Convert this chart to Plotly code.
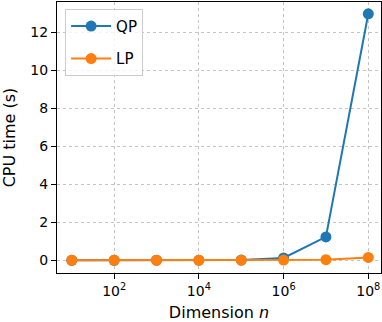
import plotly.graph_objects as go

dims = [1e1, 1e2, 1e3, 1e4, 1e5, 1e6, 1e7, 1e8]
qp_time = [0.002, 0.002, 0.003, 0.005, 0.01, 0.12, 1.23, 12.98]
lp_time = [0.001, 0.001, 0.001, 0.002, 0.003, 0.01, 0.03, 0.15]
x_tickvals = [1e2, 1e4, 1e6, 1e8]
x_ticktext = ["10<sup>2</sup>", "10<sup>4</sup>", "10<sup>6</sup>", "10<sup>8</sup>"]
y_tickvals = [0, 2, 4, 6, 8, 10, 12]

font = "DejaVu Sans"
fig = go.Figure()
fig.add_trace(go.Scatter(x=dims, y=qp_time, mode="lines+markers", name="QP",
                         legendgroup="qp",
                         line=dict(color="#1f77b4", width=2),
                         marker=dict(color="#1f77b4", size=11)))
fig.add_trace(go.Scatter(x=dims, y=lp_time, mode="lines+markers", name="LP",
                         legendgroup="lp",
                         line=dict(color="#ff7f0e", width=2),
                         marker=dict(color="#ff7f0e", size=11)))

axis_common = dict(showline=True, linecolor="black", linewidth=1, mirror=True,
                   ticks="outside", ticklen=5, tickwidth=1, tickcolor="black",
                   showgrid=True, gridcolor="#c4c4c4", gridwidth=1, griddash="dot",
                   zeroline=False, automargin=False,
                   tickfont=dict(family=font, size=14, color="black"))

fig.update_layout(
    width=382, height=322,
    margin=dict(l=57, r=1, t=2, b=49),
    paper_bgcolor="white", plot_bgcolor="white",
    font=dict(family=font, size=14, color="black"),
    xaxis=dict(type="log", range=[0.65, 8.3], tickvals=x_tickvals, ticktext=x_ticktext,
               title=dict(text="Dimension <i>n</i>", font=dict(family=font, size=16), standoff=9),
               **axis_common),
    yaxis=dict(range=[-0.67, 13.6], tickvals=y_tickvals,
               title=dict(text="CPU time (s)", font=dict(family=font, size=16), standoff=10),
               **axis_common),
    legend=dict(x=0.025, y=0.975, xanchor="left", yanchor="top",
                bgcolor="rgba(255,255,255,0.8)", bordercolor="#cccccc", borderwidth=1,
                font=dict(family=font, size=15), itemwidth=40, tracegroupgap=10),
    showlegend=True,
)

fig.write_html("out.html", config={"displayModeBar": False},
               post_script="document.body.style.margin='0';document.body.style.overflow='hidden';")
